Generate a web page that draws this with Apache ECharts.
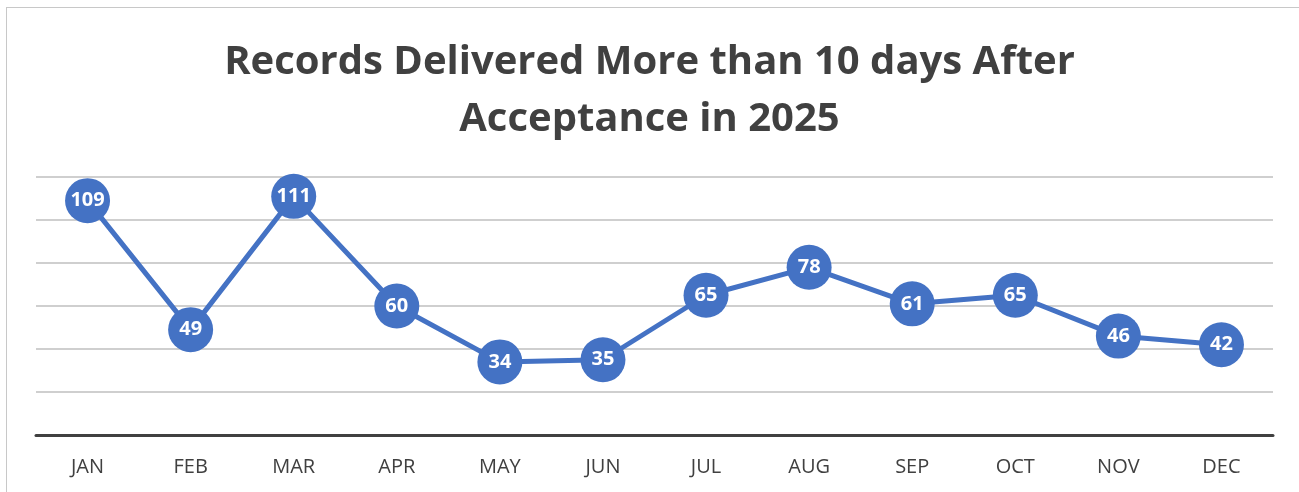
<!DOCTYPE html>
<html>
<head>
<meta charset="utf-8">
<script src="https://cdn.jsdelivr.net/npm/echarts@6/dist/echarts.min.js"></script>
<style>
  html, body { margin: 0; padding: 0; background: #fff; }
  #frame { position: absolute; left: 6px; top: 7px; width: 1320px; height: 520px; border: 1px solid #c8c8c8; box-sizing: border-box; }
  #chart { position: absolute; left: 0; top: 0; width: 1299px; height: 492px; }
</style>
</head>
<body>
<div id="frame"></div>
<div id="chart"></div>
<script>
// ---- data ----
var months = ["JAN", "FEB", "MAR", "APR", "MAY", "JUN", "JUL", "AUG", "SEP", "OCT", "NOV", "DEC"];
var records = [109, 49, 111, 60, 34, 35, 65, 78, 61, 65, 46, 42];
var titleLines = ["Records Delivered More than 10 days After", "Acceptance in 2025"];

var BLUE = "#4472C4";
var FONT = "'Open Sans', 'Liberation Sans', sans-serif";

var chart = echarts.init(document.getElementById("chart"));
chart.setOption({
  animation: false,
  title: {
    text: titleLines.join("\n"),
    left: "center",
    top: 29,
    textStyle: { fontFamily: FONT, fontSize: 40, fontWeight: "bold", color: "#404040", lineHeight: 57 }
  },
  grid: { top: 177, bottom: 57, left: 36, right: 26 },
  xAxis: {
    type: "category",
    data: months,
    boundaryGap: true,
    axisLine: { lineStyle: { color: "#404040", width: 3 } },
    axisTick: { show: false },
    axisLabel: { fontFamily: FONT, fontSize: 20, color: "#404040", margin: 22 }
  },
  yAxis: {
    type: "value",
    min: 0,
    max: 120,
    interval: 20,
    axisLabel: { show: false },
    axisLine: { show: false },
    axisTick: { show: false },
    splitLine: { lineStyle: { color: "#bfbfbf", width: 1.5 } }
  },
  series: [{
    type: "line",
    data: records,
    symbol: "circle",
    symbolSize: 45,
    itemStyle: { color: BLUE },
    lineStyle: { color: BLUE, width: 5 },
    label: {
      show: true,
      position: "inside",
      color: "#fff",
      fontFamily: FONT,
      fontSize: 20,
      fontWeight: "bold"
    }
  }]
});
</script>
</body>
</html>
